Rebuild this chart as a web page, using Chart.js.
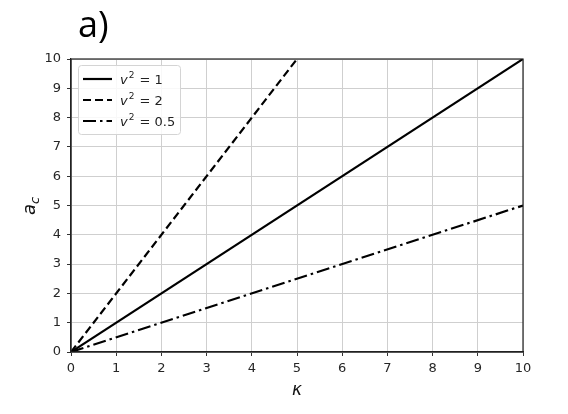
<!DOCTYPE html>
<html>
<head>
<meta charset="utf-8">
<script src="https://cdn.jsdelivr.net/npm/chart.js@4.4.0/dist/chart.umd.min.js"></script>
<style>
  html, body { margin: 0; padding: 0; background: #fff; }
  #wrap { width: 568px; height: 414px; }
</style>
</head>
<body>
<div id="wrap"><canvas id="myChart" width="568" height="414"></canvas></div>
<script>
// values
const kappaTicks = [0, 1, 2, 3, 4, 5, 6, 7, 8, 9, 10];
const acTicks = [0, 1, 2, 3, 4, 5, 6, 7, 8, 9, 10];

const kappaV1 = [0, 10];
const acV1 = [0, 10];
const kappaV2 = [0, 5];
const acV2 = [0, 10];
const kappaV05 = [0, 10];
const acV05 = [0, 5];

const seriesLabels = ['1', '2', '0.5'];

const toPoints = (xs, ys) => xs.map((x, i) => ({ x: x, y: ys[i] }));

// frame, axis titles, panel label and legend, matplotlib style
const decorPlugin = {
  id: 'decor',
  afterDraw(chart) {
    const ctx = chart.ctx;
    const a = chart.chartArea;
    ctx.save();

    // box on all four sides
    ctx.strokeStyle = '#222';
    ctx.lineWidth = 1.2;
    ctx.strokeRect(a.left, a.top, a.right - a.left, a.bottom - a.top);

    // panel label
    ctx.fillStyle = '#000';
    ctx.font = '36px "Open Sans"';
    ctx.textBaseline = 'alphabetic';
    ctx.textAlign = 'left';
    ctx.fillText('a)', 78, 37);

    // x title (kappa)
    ctx.fillStyle = '#111';
    ctx.font = 'italic 17px "DejaVu Sans"';
    ctx.textAlign = 'center';
    ctx.fillText('\u03BA', (a.left + a.right) / 2, 395);

    // y title a_c, rotated
    ctx.save();
    ctx.translate(35, (a.top + a.bottom) / 2);
    ctx.rotate(-Math.PI / 2);
    ctx.textAlign = 'left';
    ctx.font = 'italic 18px "DejaVu Sans"';
    const wa = ctx.measureText('a').width;
    const wc = 8;
    const start = -(wa + wc) / 2;
    ctx.fillText('a', start, 0);
    ctx.font = 'italic 13px "DejaVu Sans"';
    ctx.fillText('c', start + wa, 4);
    ctx.restore();

    // legend
    const lx = 78, ly = 65, lw = 102, lh = 69;
    ctx.fillStyle = 'rgba(255,255,255,0.85)';
    ctx.strokeStyle = '#d4d4d4';
    ctx.lineWidth = 1;
    ctx.beginPath();
    ctx.roundRect(lx + 0.5, ly + 0.5, lw, lh, 3);
    ctx.fill();
    ctx.stroke();

    const rows = [79, 100, 121];
    chart.data.datasets.forEach((ds, i) => {
      const y = rows[i];
      ctx.strokeStyle = ds.borderColor;
      ctx.lineWidth = ds.borderWidth;
      ctx.setLineDash(ds.borderDash || []);
      ctx.beginPath();
      ctx.moveTo(83, y);
      ctx.lineTo(112, y);
      ctx.stroke();
      ctx.setLineDash([]);

      ctx.fillStyle = '#222';
      ctx.textAlign = 'left';
      ctx.textBaseline = 'alphabetic';
      let x = 120;
      ctx.font = 'italic 13px "DejaVu Sans"';
      ctx.fillText('v', x, y + 5);
      x += ctx.measureText('v').width + 1;
      ctx.font = '9px "DejaVu Sans"';
      ctx.fillText('2', x, y - 1);
      x += ctx.measureText('2').width + 1;
      ctx.font = '13px "DejaVu Sans"';
      ctx.fillText(' = ' + seriesLabels[i], x, y + 5);
    });

    ctx.restore();
  }
};

const ctx = document.getElementById('myChart');
new Chart(ctx, {
  type: 'line',
  data: {
    datasets: [
      {
        label: 'v\u00B2 = 1',
        data: toPoints(kappaV1, acV1),
        borderColor: '#000',
        borderWidth: 2.2,
        pointRadius: 0
      },
      {
        label: 'v\u00B2 = 2',
        data: toPoints(kappaV2, acV2),
        borderColor: '#000',
        borderWidth: 2.2,
        borderDash: [8, 4],
        pointRadius: 0
      },
      {
        label: 'v\u00B2 = 0.5',
        data: toPoints(kappaV05, acV05),
        borderColor: '#000',
        borderWidth: 2.2,
        borderDash: [13, 4, 2.5, 4],
        pointRadius: 0
      }
    ]
  },
  options: {
    responsive: false,
    animation: false,
    layout: { padding: { left: 0, right: 45, top: 59, bottom: 0 } },
    plugins: {
      legend: { display: false },
      tooltip: { enabled: false }
    },
    scales: {
      x: {
        type: 'linear',
        min: 0,
        max: 10,
        afterBuildTicks: (scale) => { scale.ticks = kappaTicks.map(v => ({ value: v })); },
        afterFit: (scale) => { scale.height = 62; },
        ticks: {
          color: '#262626',
          font: { family: 'DejaVu Sans', size: 13 },
          padding: 5,
          maxRotation: 0
        },
        grid: { color: '#cfcfcf', lineWidth: 1, tickColor: '#333', tickLength: 4 },
        border: { color: '#222', width: 1.2 }
      },
      y: {
        type: 'linear',
        min: 0,
        max: 10,
        afterBuildTicks: (scale) => { scale.ticks = acTicks.map(v => ({ value: v })); },
        afterFit: (scale) => { scale.width = 71; },
        ticks: {
          color: '#262626',
          font: { family: 'DejaVu Sans', size: 13 },
          padding: 6
        },
        grid: { color: '#cfcfcf', lineWidth: 1, tickColor: '#333', tickLength: 4 },
        border: { color: '#222', width: 1.2 }
      }
    }
  },
  plugins: [decorPlugin]
});
</script>
</body>
</html>
